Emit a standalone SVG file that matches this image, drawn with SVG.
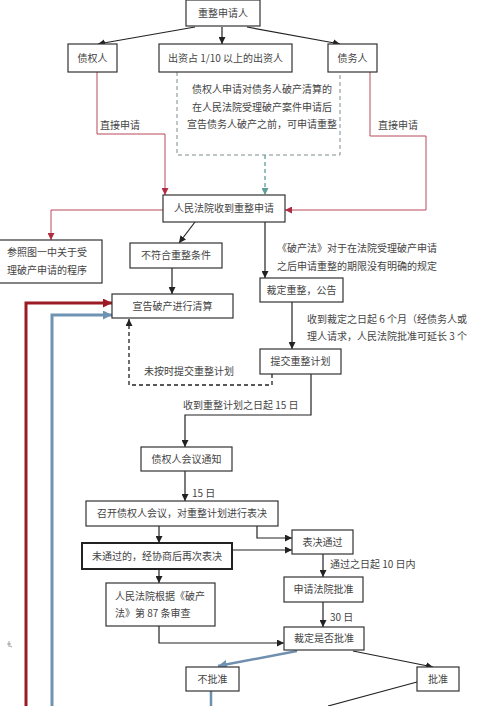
<svg xmlns="http://www.w3.org/2000/svg" width="488" height="706" viewBox="0 0 488 706">
<style>
.box{fill:#fff;stroke:#333;stroke-width:1.2}
.thick{fill:#fff;stroke:#222;stroke-width:2}
text{font-family:"Noto Sans CJK SC","Noto Sans",sans-serif;font-size:10px;fill:#444}
.c{text-anchor:middle}
.k{fill:none;stroke:#222;stroke-width:1.2}
.r{fill:none;stroke:#b8485a;stroke-width:1}
.rt{fill:none;stroke:#9b1b25;stroke-width:3}
.bt{fill:none;stroke:#6f94b3;stroke-width:3}
.bl{fill:none;stroke:#6f8fae;stroke-width:2.5}
.kd{fill:none;stroke:#222;stroke-width:1.3;stroke-dasharray:4 3}
.gd{fill:none;stroke:#7f8e8c;stroke-width:1;stroke-dasharray:4 3}
.td{fill:none;stroke:#5f9f98;stroke-width:1.3;stroke-dasharray:4 3}
</style>
<defs>
<marker id="ak" viewBox="0 0 10 10" refX="10" refY="5" markerWidth="7" markerHeight="7" markerUnits="userSpaceOnUse" orient="auto"><path d="M0,0L10,5L0,10z" fill="#222"/></marker>
<marker id="ar" viewBox="0 0 10 10" refX="10" refY="5" markerWidth="7" markerHeight="7" markerUnits="userSpaceOnUse" orient="auto"><path d="M0,0L10,5L0,10z" fill="#b02c40"/></marker>
<marker id="art" viewBox="0 0 10 10" refX="10" refY="5" markerWidth="9" markerHeight="9" markerUnits="userSpaceOnUse" orient="auto"><path d="M0,0L10,5L0,10z" fill="#9b1b25"/></marker>
<marker id="abt" viewBox="0 0 10 10" refX="10" refY="5" markerWidth="9" markerHeight="9" markerUnits="userSpaceOnUse" orient="auto"><path d="M0,0L10,5L0,10z" fill="#6f94b3"/></marker>
<marker id="at" viewBox="0 0 10 10" refX="10" refY="5" markerWidth="7" markerHeight="7" markerUnits="userSpaceOnUse" orient="auto"><path d="M0,0L10,5L0,10z" fill="#5f9f98"/></marker>
</defs>
<rect width="488" height="706" fill="#fff"/>

<g id="connectors">
<path class="k" d="M195,27L98,44" marker-end="url(#ak)"/>
<path class="k" d="M222,27L222,44" marker-end="url(#ak)"/>
<path class="k" d="M247,27L340,44" marker-end="url(#ak)"/>
<path class="r" d="M97,72V134H165V195" marker-end="url(#ar)"/>
<path class="r" d="M370,72V136H426V210H285" marker-end="url(#ar)"/>
<path class="gd" d="M177,72V155H340V72"/>
<path class="td" d="M265,155V195" marker-end="url(#at)"/>
<path class="r" d="M163,210H51V240" marker-end="url(#ar)"/>
<path class="k" d="M195,222L179,243" marker-end="url(#ak)"/>
<path class="k" d="M172,268V294" marker-end="url(#ak)"/>
<path class="k" d="M265,222V278" marker-end="url(#ak)"/>
<path class="k" d="M292,302V349" marker-end="url(#ak)"/>
<path class="kd" d="M272,374V385H129V319" marker-end="url(#ak)"/>
<path class="k" d="M311,374V415H185V447" marker-end="url(#ak)"/>
<path class="k" d="M185,471V501" marker-end="url(#ak)"/>
<path class="k" d="M159,526V543" marker-end="url(#ak)"/>
<path class="k" d="M257,526V538H292" marker-end="url(#ak)"/>
<path class="k" d="M232,550H292" marker-end="url(#ak)"/>
<path class="k" d="M323,554V577" marker-end="url(#ak)"/>
<path class="k" d="M323,602V627" marker-end="url(#ak)"/>
<path class="k" d="M159,569V583" marker-end="url(#ak)"/>
<path class="k" d="M159,626V643H284" marker-end="url(#ak)"/>
<path class="bl" d="M297,651L218,666" marker-end="url(#abt)"/>
<path class="k" d="M353,651L433,667" marker-end="url(#ak)"/>
<path class="bl" d="M211,691V706"/>
<path class="k" d="M417,682L328,706"/>
<path class="rt" d="M26,706V303H112" marker-end="url(#art)"/>
<path class="bt" d="M52,706V315H112" marker-end="url(#abt)"/>
<path d="M7,644h4M9,641v6M10,646l2,1" fill="none" stroke="#888" stroke-width="0.8"/>
</g>

<g id="labels">
<text x="100" y="129">直接申请</text>
<text x="378" y="129">直接申请</text>
<text x="307" y="323">收到裁定之日起 6 个月（经债务人或</text>
<text x="307" y="340">理人请求，人民法院批准可延长 3 个</text>
<text x="144" y="375">未按时提交重整计划</text>
<text x="183" y="409">收到重整计划之日起 15 日</text>
<text x="192" y="497">15 日</text>
<text x="330" y="568">通过之日起 10 日内</text>
<text x="330" y="621">30 日</text>
<text x="277" y="252">《破产法》对于在法院受理破产申请</text>
<text x="277" y="270">之后申请重整的期限没有明确的规定</text>
</g>

<g id="n-applicant"><rect class="box" x="186" y="0" width="74" height="26"/><text class="c" x="223" y="17">重整申请人</text></g>
<g id="n-creditor"><rect class="box" x="68" y="44" width="49" height="28"/><text class="c" x="92.5" y="62">债权人</text></g>
<g id="n-investor"><rect class="box" x="159" y="44" width="133" height="28"/><text class="c" x="225.5" y="62">出资占 1/10 以上的出资人</text></g>
<g id="n-debtor"><rect class="box" x="328" y="44" width="49" height="28"/><text class="c" x="352.5" y="62">债务人</text></g>
<g id="n-note">
<text class="c" x="262" y="93">债权人申请对债务人破产清算的</text>
<text class="c" x="262" y="111">在人民法院受理破产案件申请后</text>
<text class="c" x="262" y="128">宣告债务人破产之前，可申请重整</text>
</g>
<g id="n-court"><rect class="box" x="163" y="195" width="122" height="27"/><text class="c" x="224" y="212">人民法院收到重整申请</text></g>
<g id="n-refer"><rect class="box" x="-1" y="240" width="103" height="43"/><text x="7" y="256">参照图一中关于受</text><text x="7" y="274">理破产申请的程序</text></g>
<g id="n-notmeet"><rect class="box" x="130" y="243" width="92" height="25"/><text class="c" x="176" y="259">不符合重整条件</text></g>
<g id="n-liquidate"><rect class="box" x="112" y="294" width="121" height="24"/><text class="c" x="172.5" y="310">宣告破产进行清算</text></g>
<g id="n-ruling"><rect class="box" x="260" y="278" width="83" height="24"/><text class="c" x="301.5" y="294">裁定重整，公告</text></g>
<g id="n-submit"><rect class="box" x="260" y="349" width="81" height="25"/><text class="c" x="300.5" y="365">提交重整计划</text></g>
<g id="n-notice"><rect class="box" x="141" y="447" width="91" height="24"/><text class="c" x="186.5" y="463">债权人会议通知</text></g>
<g id="n-meeting"><rect class="box" x="86" y="501" width="192" height="25"/><text class="c" x="182" y="517">召开债权人会议，对重整计划进行表决</text></g>
<g id="n-passed"><rect class="box" x="292" y="530" width="61" height="24"/><text class="c" x="322.5" y="546">表决通过</text></g>
<g id="n-revote"><rect class="thick" x="82" y="543" width="150" height="26"/><text class="c" x="157" y="560">未通过的，经协商后再次表决</text></g>
<g id="n-apply"><rect class="box" x="284" y="577" width="79" height="25"/><text class="c" x="323.5" y="593">申请法院批准</text></g>
<g id="n-review"><rect class="box" x="106" y="583" width="109" height="43"/><text x="115" y="600">人民法院根据《破产</text><text x="115" y="617">法》第 87 条审查</text></g>
<g id="n-decide"><rect class="box" x="284" y="627" width="80" height="23"/><text class="c" x="324" y="642">裁定是否批准</text></g>
<g id="n-reject"><rect class="box" x="186" y="667" width="53" height="24"/><text class="c" x="212.5" y="683">不批准</text></g>
<g id="n-approve"><rect class="box" x="417" y="667" width="42" height="24"/><text class="c" x="438" y="683">批准</text></g>
</svg>
